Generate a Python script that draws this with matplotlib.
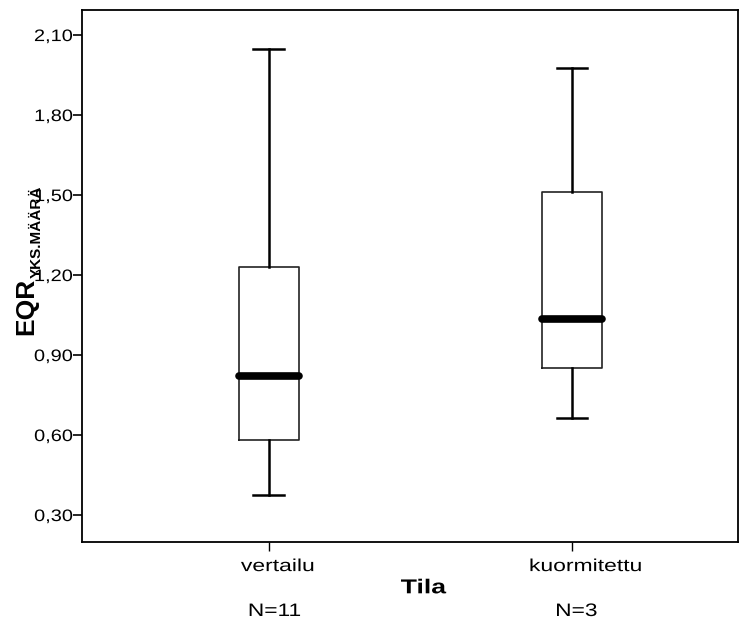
import matplotlib
matplotlib.use("Agg")
import matplotlib.pyplot as plt
from matplotlib.patheffects import AbstractPathEffect
from matplotlib.transforms import Affine2D, blended_transform_factory

plt.rcParams["font.family"] = ["Liberation Sans", "DejaVu Sans"]

groups = ["vertailu", "kuormitettu"]
counts = [11, 3]
whislo = [0.375, 0.665]
q1 = [0.581, 0.850]
med = [0.821, 1.036]
q3 = [1.231, 1.512]
whishi = [2.046, 1.977]
yticks = [0.30, 0.60, 0.90, 1.20, 1.50, 1.80, 2.10]


class Widen(AbstractPathEffect):
    """Stretch glyphs horizontally (screen x) about the text origin."""

    def __init__(self, sx):
        super().__init__()
        self.sx = sx

    def draw_path(self, renderer, gc, tpath, affine, rgbFace=None):
        x0, y0 = affine.transform((0, 0))
        extra = Affine2D().translate(-x0, -y0).scale(self.sx, 1).translate(x0, y0)
        renderer.draw_path(gc, tpath, affine + extra, rgbFace)


stats = []
for i, g in enumerate(groups):
    stats.append({"label": g, "whislo": whislo[i], "q1": q1[i], "med": med[i],
                  "q3": q3[i], "whishi": whishi[i], "fliers": []})

W, H = 750, 622
fig = plt.figure(figsize=(7.5, 6.22), dpi=100)
ax = fig.add_axes([82 / W, 1 - 542 / H, 656 / W, 532 / H])

ax.bxp(stats, positions=[1, 2], widths=0.198, showfliers=False,
       boxprops=dict(color="#222222", linewidth=1.2),
       whiskerprops=dict(color="black", linewidth=1.8),
       capprops=dict(color="black", linewidth=1.8),
       capwidths=0.102,
       medianprops=dict(color="black", linewidth=5.5, solid_capstyle="round"))

ax.set_xlim(0.383, 2.548)
ax.set_ylim(0.199, 2.194)
ax.set_yticks(yticks)
ax.set_yticklabels([f"{v:.2f}".replace(".", ",") for v in yticks])
ax.set_xticks([1, 2])
ax.set_xticklabels(groups)

for s in ax.spines.values():
    s.set_linewidth(1.3)
ax.tick_params(axis="y", length=6.8, width=1.2, pad=4.5, labelsize=12)
ax.tick_params(axis="x", length=6.8, width=1.0, pad=5.5, labelsize=12.5)
for lbl in ax.get_yticklabels():
    lbl.set_path_effects([Widen(1.2)])
for lbl in ax.get_xticklabels():
    lbl.set_path_effects([Widen(1.32)])

# x axis title
ax.text((400.7 - 82) / 656, (542 - 593.3) / 532, "Tila", transform=ax.transAxes,
        ha="left", va="baseline", fontsize=14.5, fontweight="bold",
        path_effects=[Widen(1.32)])

# group sizes under the category labels
trans = blended_transform_factory(ax.transData, ax.transAxes)
for i, n in enumerate(counts):
    ax.text(i + 1, (542 - 616) / 532, f"N={n}", transform=trans, ha="center",
            va="baseline", fontsize=13, path_effects=[Widen(1.26)])

# y axis title with subscript
eqr = fig.text(33 / W, 1 - 335 / H, "EQR", rotation=90, rotation_mode="anchor",
               ha="left", va="baseline", fontsize=19, fontweight="bold")
ax.annotate("YKS.MÄÄRÄ", xy=(0, 1), xycoords=eqr, xytext=(27, 0),
            textcoords="offset pixels", rotation=90, rotation_mode="anchor",
            ha="left", va="baseline", fontsize=11, fontweight="bold",
            annotation_clip=False)

fig.savefig("out.png", dpi=100)
